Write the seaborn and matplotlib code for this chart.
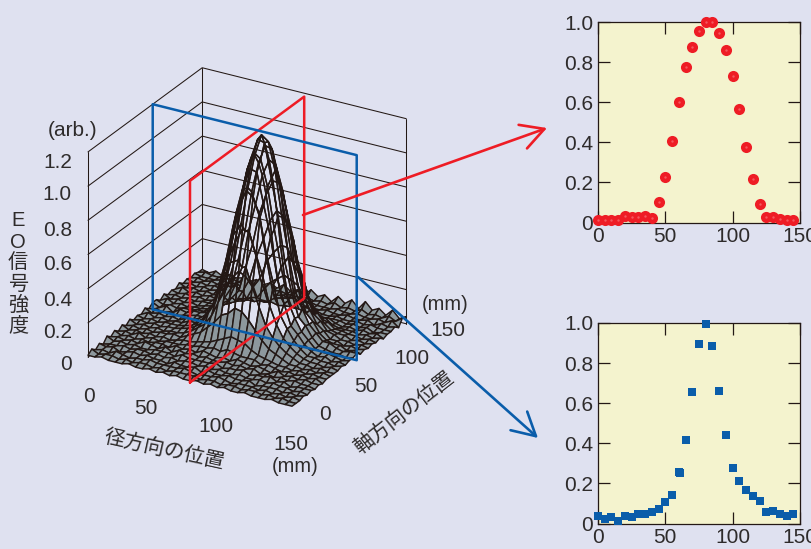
import numpy as np
import matplotlib
matplotlib.use("Agg")
import matplotlib.pyplot as plt
import seaborn as sns
from mpl_toolkits.mplot3d import proj3d

# profile along the axial direction (red plane)
red_x = [0, 5, 10, 15, 20, 25, 30, 35, 40, 45, 50, 55, 60, 65, 70, 75, 80, 85, 90, 95,
         100, 105, 110, 115, 120, 125, 130, 135, 140, 145]
red_y = [.01, .01, .01, .01, .03, .025, .025, .03, .023, .10, .227, .405, .60, .776, .874,
         .954, .998, .998, .944, .859, .733, .567, .378, .216, .091, .027, .027, .018, .013, .013]

# profile along the radial direction (blue plane)
blue_x = [0, 5, 10, 15, 20, 25, 30, 35, 40, 45, 50, 55, 60, 61, 65, 70, 75, 80, 85, 90, 95,
          100, 105, 110, 115, 120, 125, 130, 135, 140, 145]
blue_y = [.038, .022, .03, .01, .038, .03, .047, .047, .057, .072, .107, .143, .257, .25, .415,
          .655, .893, .997, .883, .663, .443, .277, .213, .165, .137, .11, .057, .063, .045, .038, .045]

profile_xticks = [0, 50, 100, 150]
profile_yticks = [0, .2, .4, .6, .8, 1.0]
profile_ylabels = ["0", "0.2", "0.4", "0.6", "0.8", "1.0"]

surf_x = list(range(0, 155, 5))
surf_y = list(range(0, 155, 5))
surf_z = [
    [1,1,2,1,1,1,2,1,1,2,1,2,1,2,1,1,2,1,2,1,2,1,1,2,1,1,1,2,1,1,1],
    [3,1,2,2,1,2,1,2,2,1,2,1,2,2,2,2,1,2,2,1,2,2,1,2,2,1,2,1,2,1,1],
    [1,2,1,3,2,1,2,2,3,2,2,2,2,3,2,1,2,2,3,2,1,2,2,2,1,2,1,2,1,2,1],
    [3,2,3,1,2,3,2,3,2,2,1,3,2,2,3,1,3,2,2,3,2,2,3,1,2,2,2,1,2,1,2],
    [1,2,2,3,2,3,3,2,3,2,3,2,3,3,2,3,2,3,2,2,3,2,2,3,2,3,2,2,1,2,1],
    [4,2,3,2,3,2,2,3,3,3,2,4,3,3,3,3,4,2,3,3,4,2,3,3,4,2,3,1,2,2,2],
    [2,3,2,3,2,4,3,2,4,2,4,3,4,3,4,3,3,4,3,4,3,4,2,3,2,3,2,3,2,2,1],
    [4,2,3,2,3,2,3,3,2,4,3,4,3,5,4,3,4,3,5,4,3,4,3,2,4,2,3,2,3,2,2],
    [2,3,2,4,2,3,2,3,3,3,4,4,5,5,6,5,7,6,5,5,5,3,4,3,2,3,2,3,2,3,1],
    [4,2,3,2,3,2,3,2,3,4,4,5,6,7,9,11,13,12,11,8,6,5,4,3,3,2,3,2,3,2,2],
    [2,3,2,3,2,3,3,4,3,5,7,9,13,17,22,24,28,27,23,18,13,9,7,5,3,3,2,3,2,3,2],
    [4,2,3,2,3,2,3,3,4,6,9,12,18,27,35,43,48,46,41,30,20,14,10,7,5,3,3,2,3,2,2],
    [2,3,2,3,2,3,3,4,5,7,10,17,24,38,53,63,71,70,58,46,30,20,13,9,6,4,3,3,2,3,2],
    [3,2,3,2,3,3,3,4,5,8,12,19,33,48,68,82,92,89,78,57,41,24,17,11,7,4,4,3,3,2,3],
    [2,4,2,3,2,3,3,5,5,8,14,21,37,53,76,92,103,102,84,66,43,29,17,13,8,5,3,4,2,3,2],
    [4,2,3,2,3,2,4,4,6,9,13,25,37,60,80,100,111,108,93,69,48,29,20,13,9,5,4,4,3,2,3],
    [2,3,2,3,2,3,4,5,5,9,15,24,41,61,86,105,117,116,96,75,49,32,19,15,9,5,4,3,3,2,3],
    [4,2,4,1,4,3,5,5,6,9,14,25,40,63,85,105,118,115,99,73,51,31,22,14,10,6,6,4,3,4,4],
    [4,2,3,2,3,3,4,4,6,8,15,22,39,57,81,99,110,109,90,70,46,30,18,14,8,5,4,4,2,3,2],
    [2,4,2,3,2,3,3,4,5,9,12,22,33,56,72,90,100,98,84,62,44,26,18,11,8,4,4,2,3,2,3],
    [4,2,3,2,3,2,3,4,4,7,12,17,32,46,65,77,86,86,71,55,36,24,14,11,6,5,3,3,2,3,2],
    [2,3,2,3,2,3,3,3,4,6,8,15,23,37,48,60,67,65,57,41,30,17,13,8,5,4,4,2,3,2,3],
    [3,2,3,2,3,2,3,3,3,5,8,9,17,23,34,40,45,45,36,29,20,13,8,7,4,4,3,3,2,3,2],
    [2,4,2,3,2,3,2,3,3,4,5,8,9,15,20,23,26,24,22,15,12,7,7,4,3,3,3,2,3,2,3],
    [4,2,3,2,3,2,3,2,3,3,4,4,6,6,9,10,11,12,8,8,5,4,5,3,2,3,2,3,2,3,1],
    [2,3,2,3,2,3,2,3,2,2,3,3,3,4,3,4,4,4,3,4,3,2,3,3,2,3,2,3,1,2,2],
    [3,2,3,2,3,2,3,2,3,2,3,2,3,2,2,2,2,3,2,3,2,2,3,2,2,3,2,3,2,2,2],
    [2,3,2,3,2,3,2,3,2,2,2,3,2,2,2,2,3,2,2,2,3,2,2,3,2,2,3,1,3,2,3],
    [3,2,2,2,3,2,3,2,2,3,2,2,2,3,2,1,2,3,2,2,2,3,2,2,3,2,2,3,2,4,1],
    [2,3,2,2,2,3,2,3,2,2,3,2,3,2,2,2,3,2,3,2,4,2,3,2,4,2,3,2,4,2,5],
    [2,1,3,1,3,2,3,2,4,2,4,2,5,2,4,2,6,3,5,2,6,3,6,2,7,3,5,2,6,2,4],
]
z_ticks = [0, .2, .4, .6, .8, 1.0, 1.2]
red_plane_x = 75
blue_plane_y = 85
plane_top = 1.18

BG = "#dfe1f0"
PANEL = "#f4f3ce"
INK = "#231815"
TXT = "#2e2b2b"
RED = "#ee1c25"
BLUE = "#0a5daa"
GRAY = "#8d989d"
W, H = 811, 549

sns.set_theme(style="ticks")
plt.rcParams["font.family"] = ["Liberation Sans", "Noto Sans CJK JP", "DejaVu Sans"]

fig = plt.figure(figsize=(W / 100, H / 100), dpi=100, facecolor=BG)

# --- 3d surface ---
ax3 = fig.add_axes([0.1, 0.1, 0.6, 0.6 * W / H], projection="3d", computed_zorder=False)
ax3.set_proj_type("ortho")
ax3.view_init(elev=25.4, azim=-59.8)
ax3.set_box_aspect((236, 227, 227))
ax3.set_axis_off()
ax3.patch.set_visible(False)

for z in z_ticks:
    ax3.plot([0, 0, 150], [0, 150, 150], [z, z, z], color=INK, lw=0.75, zorder=1)
for cx, cy in [(0, 0), (0, 150), (150, 150)]:
    ax3.plot([cx, cx], [cy, cy], [0, 1.2], color=INK, lw=0.75, zorder=1)

X, Y = np.meshgrid(surf_x, surf_y)
Z = np.array(surf_z) / 100
face = np.zeros(Z.shape + (4,))
face[Z < 0.2] = matplotlib.colors.to_rgba(GRAY)
ax3.plot_surface(X, Y, Z, rstride=1, cstride=1, facecolors=face, shade=False,
                 edgecolor=INK, linewidth=1.05, zorder=2)

ax3.plot([red_plane_x] * 5, [0, 150, 150, 0, 0], [0, 0, plane_top, plane_top, 0],
         color=RED, lw=1.8, zorder=3)
ax3.plot([0, 150, 150, 0, 0], [blue_plane_y] * 5, [0, 0, 1.2, 1.2, 0],
         color=BLUE, lw=1.8, zorder=4)
ax3.set_xlim(0, 150)
ax3.set_ylim(0, 150)
ax3.set_zlim(0, 1.2)


def to_px(x, y, z):
    ax3.apply_aspect()
    sx, sy, _ = proj3d.proj_transform(x, y, z, ax3.get_proj())
    return ax3.transData.transform((sx, sy))


# place the 3d box so its floor corners land where they should
size = 500.0
ax3.set_position([100 / W, 20 / H, size / W, size / H])
span = to_px(150, 0, 0)[0] - to_px(0, 0, 0)[0]
size = size * 204 / span
ax3.set_position([100 / W, 20 / H, size / W, size / H])
p = to_px(0, 0, 0)
ax3.set_position([(100 + 88 - p[0]) / W, (20 + (H - 357) - p[1]) / H, size / W, size / H])


# --- profiles ---
def profile_axes(top, xs, ys, color, marker, ms):
    ax = fig.add_axes([598 / W, (H - top - 200.5) / H, 202 / W, 200.5 / H], facecolor=PANEL)
    sns.scatterplot(x=xs, y=ys, ax=ax, color=color, marker=marker, s=ms, linewidth=0,
                    clip_on=False, zorder=3)
    ax.set_xlim(0, 150)
    ax.set_ylim(0, 1)
    ax.set_xticks(profile_xticks)
    ax.set_yticks(profile_yticks, profile_ylabels)
    ax.tick_params(direction="in", length=8.6, width=0.9, top=True, right=True, color=INK,
                   labelsize=15, labelcolor=TXT, pad=3.5)
    for s in ax.spines.values():
        s.set_linewidth(0.9)
        s.set_color(INK)
    return ax


ax_red = profile_axes(22, red_x, red_y, RED, "o", 64)
sns.scatterplot(x=red_x, y=red_y, ax=ax_red, color="#f3585f", marker="o", s=3, linewidth=0,
                clip_on=False, zorder=4)
ax_blue = profile_axes(323, blue_x, blue_y, BLUE, "s", 36)

# --- overlay in pixel coords for labels and arrows ---
top = fig.add_axes([0, 0, 1, 1], facecolor="none")
top.set_xlim(0, W)
top.set_ylim(H, 0)
top.axis("off")


def label(x, y, s, size=15, rot=0):
    top.text(x, y, s, ha="center", va="center", fontsize=size, color=TXT, rotation=rot,
             rotation_mode="anchor", clip_on=False)


for v, y in zip(["0", "0.2", "0.4", "0.6", "0.8", "1.0", "1.2"], [365, 332, 300, 264, 230, 195, 162]):
    top.text(72, y, v, ha="right", va="center", fontsize=15, color=TXT)
for v, x, y in zip(["0", "50", "100", "150"], [89, 146, 216, 291], [396, 408, 427, 444]):
    label(x, y, v)
for v, x, y in zip(["0", "50", "100", "150"], [325, 366, 412, 448], [414, 387, 359, 331]):
    label(x, y, v)
label(73, 130, "(arb.)", 15)
label(295, 467, "(mm)", 14.5)
label(445, 305, "(mm)", 14.5)
label(164, 450, "径方向の位置", 14.8, -12.5)
label(404, 413, "軸方向の位置", 14.5, 38)
for i, ch in enumerate("EO信号強度"):
    label(18, 221 + 21 * i, ch, 14.5)

head = "->,head_length=1.1,head_width=0.6"
top.annotate("", xy=(547, 128), xytext=(303, 215),
             arrowprops=dict(arrowstyle=head, color=RED, lw=1.9, shrinkA=0, shrinkB=0, mutation_scale=15))
top.annotate("", xy=(538, 438), xytext=(358, 277),
             arrowprops=dict(arrowstyle=head, color=BLUE, lw=1.9, shrinkA=0, shrinkB=0, mutation_scale=15))

fig.savefig("out.png", dpi=100, facecolor=BG)
